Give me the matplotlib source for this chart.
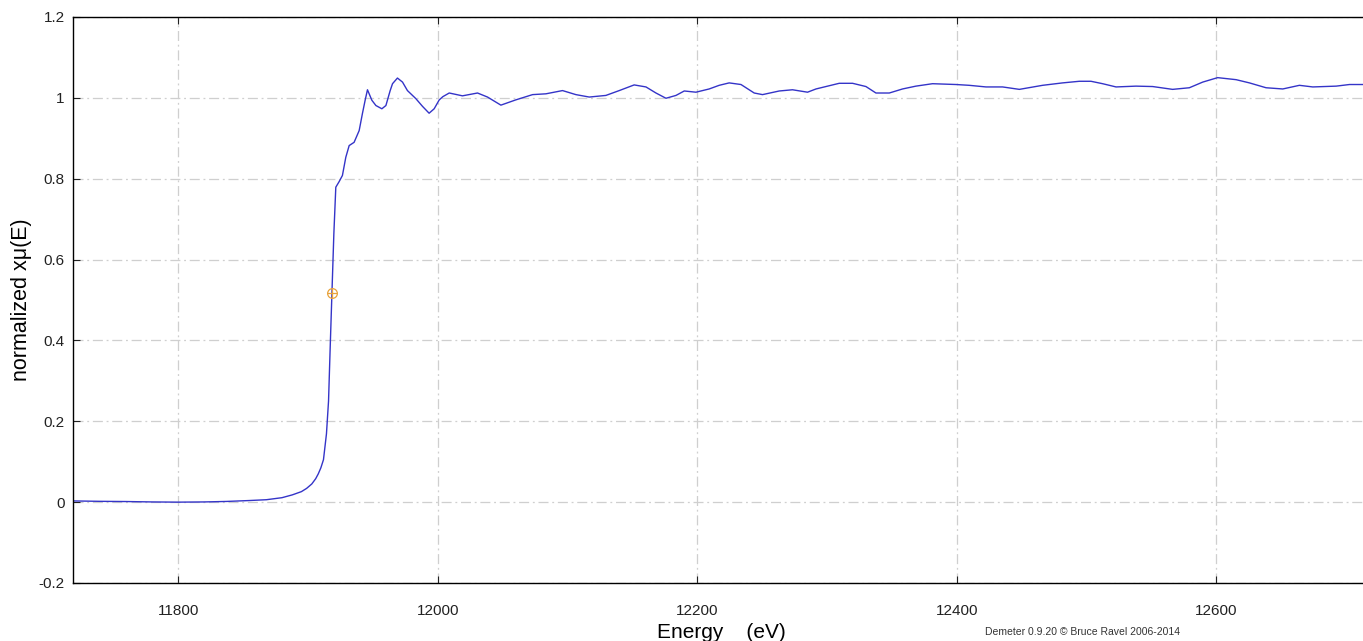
import numpy as np
import matplotlib
matplotlib.use("Agg")
import matplotlib.pyplot as plt

plt.rcParams['font.family'] = ['Liberation Sans', 'DejaVu Sans']

# normalized mu(E)
energy = [11719, 11740, 11760, 11780, 11800, 11820, 11837, 11855, 11868,
          11880, 11888, 11895, 11899, 11903, 11906, 11908, 11910, 11912,
          11914.3, 11915.9, 11917.1, 11918.5, 11920, 11921.5, 11924.1,
          11926.6, 11929.2, 11931.8, 11935.6, 11939.5, 11942, 11944.1,
          11945.9, 11949.3, 11952.4, 11957, 11960.1, 11963.4, 11965.2,
          11969, 11972.9, 11976.7, 11983.2, 11988.3, 11993.4, 11997.3,
          12001.2, 12004, 12008.9, 12019.1, 12030.7, 12038.4, 12048.7,
          12060.2, 12073.1, 12083.4, 12096.2, 12106.5, 12116.8, 12129.6,
          12139.9, 12151.4, 12160.5, 12168.2, 12175.9, 12183.6, 12190,
          12199, 12209.2, 12216.9, 12224.6, 12233.7, 12243.9, 12250.3,
          12263.2, 12273.4, 12285, 12291.5, 12309.4, 12319.7, 12330,
          12337.7, 12348, 12358.2, 12368.5, 12381.3, 12399.4, 12409.6,
          12422.5, 12435.3, 12448.2, 12466.1, 12481.5, 12494.4, 12503.4,
          12512.4, 12522.7, 12538.1, 12550.9, 12566.3, 12579.2, 12589.5,
          12601, 12615.2, 12625.5, 12638.3, 12651.2, 12664, 12674.3,
          12692.3, 12702.6, 12712.6]
mu = [0.003, 0.002, 0.0015, 0.0005, 0.0, 0.0005, 0.0017, 0.004, 0.006,
      0.011, 0.018, 0.026, 0.034, 0.045, 0.058, 0.070, 0.085, 0.105,
      0.169, 0.25, 0.375, 0.515, 0.664, 0.779, 0.793,
      0.808, 0.853, 0.882, 0.890, 0.919, 0.961, 0.994,
      1.020, 0.994, 0.981, 0.973, 0.981, 1.018, 1.035,
      1.049, 1.039, 1.018, 0.998, 0.979, 0.962, 0.973,
      0.995, 1.003, 1.012, 1.005, 1.012, 1.002, 0.982,
      0.995, 1.008, 1.010, 1.018, 1.008, 1.002, 1.006,
      1.018, 1.032, 1.027, 1.012, 0.999, 1.006, 1.017,
      1.014, 1.022, 1.031, 1.037, 1.033, 1.012, 1.008,
      1.017, 1.020, 1.014, 1.022, 1.036, 1.036, 1.028,
      1.012, 1.012, 1.022, 1.029, 1.035, 1.033, 1.031,
      1.027, 1.027, 1.021, 1.031, 1.037, 1.041, 1.041,
      1.035, 1.027, 1.029, 1.028, 1.021, 1.025, 1.039,
      1.050, 1.045, 1.037, 1.025, 1.022, 1.031, 1.027,
      1.029, 1.033, 1.033]

e0 = [11918.6]
e0_mu = [0.517]

x_ticks = [11800, 12000, 12200, 12400, 12600]
y_ticks = [-0.2, 0, 0.2, 0.4, 0.6, 0.8, 1, 1.2]
y_labels = ["-0.2", "0", "0.2", "0.4", "0.6", "0.8", "1", "1.2"]

BLUE = "#3434c8"
ORANGE = "#e8a33c"

fig = plt.figure(figsize=(13.63, 6.41), dpi=100)
ax = fig.add_axes([73 / 1363, 58 / 641, 1290 / 1363, 566 / 641])

ax.plot(energy, mu, color=BLUE, lw=1.0)
ax.plot(e0, e0_mu, marker="o", ms=7, mfc="none", mec=ORANGE, mew=0.9, ls="none")
ax.plot(e0, e0_mu, marker="+", ms=7, mec=ORANGE, mew=0.9, ls="none")

ax.set_xlim(11719, 12713)
ax.set_ylim(-0.2, 1.2)
ax.set_xticks(x_ticks)
ax.set_yticks(y_ticks)
ax.set_yticklabels(y_labels)

ax.grid(True, color="#cfcfcf", lw=0.9, ls=(0, (8, 3, 1.5, 3)))
ax.tick_params(direction="in", length=5, width=0.8, top=True, right=False,
               labelsize=11, colors="#222222")
ax.tick_params(axis="x", pad=15)
ax.tick_params(axis="y", pad=6)
ax.spines["right"].set_visible(False)
for s in ["left", "bottom", "top"]:
    ax.spines[s].set_linewidth(1.0)

ax.set_ylabel("normalized x\u03bc(E)", fontsize=15.5)
ax.yaxis.set_label_coords(-0.032, 0.5)
ax.set_xlabel("Energy    (eV)", fontsize=15)
ax.xaxis.set_label_coords(0.503, -0.07)

fig.text(985 / 1363, 1 - 632 / 641, "Demeter 0.9.20 \u00a9 Bruce Ravel 2006-2014",
         fontsize=7.5, va="center", ha="left", color="#333333")

fig.savefig("out.png", dpi=100)
plt.close(fig)
